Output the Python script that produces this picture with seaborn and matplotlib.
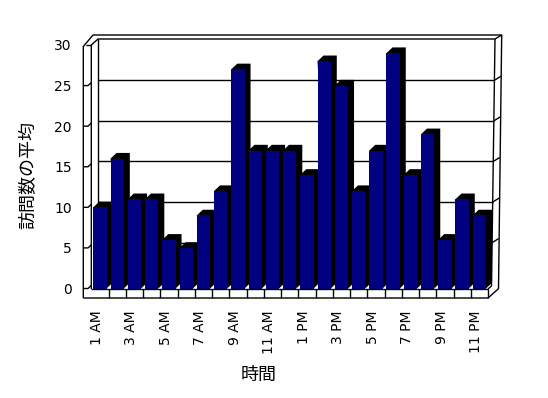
import matplotlib
matplotlib.use('Agg')
import matplotlib.pyplot as plt
import seaborn as sns
import pandas as pd
from matplotlib.patches import Polygon
from matplotlib.lines import Line2D
from matplotlib.transforms import IdentityTransform, ScaledTranslation

# ---- data ----
hours = ['1 AM', '2 AM', '3 AM', '4 AM', '5 AM', '6 AM', '7 AM', '8 AM', '9 AM',
         '10 AM', '11 AM', '12 PM', '1 PM', '2 PM', '3 PM', '4 PM', '5 PM', '6 PM',
         '7 PM', '8 PM', '9 PM', '10 PM', '11 PM']
visits = [10, 16, 11, 11, 6, 5, 9, 12, 27, 17, 17, 17, 14, 28, 25, 12, 17, 29, 14,
          19, 6, 11, 9]
y_ticks = [0, 5, 10, 15, 20, 25, 30]
x_title = '時間'
y_title = '訪問数の平均'

sns.set_style('white')
plt.rcParams['font.family'] = ['DejaVu Sans', 'Noto Sans CJK JP']
cjk = ['Noto Sans CJK JP', 'DejaVu Sans']

W, H = 548, 398
fig = plt.figure(figsize=(W / 100, H / 100), dpi=100, facecolor='white')
L, R, T, B = 91.3, 488.0, 45.0, 288.5
ax = fig.add_axes([L / W, 1 - B / H, (R - L) / W, (B - T) / H])
ax.set_facecolor('none')

df = pd.DataFrame({'hour': hours, 'visits': visits})
sns.barplot(data=df, x='hour', y='visits', color='#000080', saturation=1,
            width=0.77, errorbar=None, ax=ax, zorder=3, linewidth=0)
ax.set_xlim(-0.5, len(hours) - 0.5)
ax.set_ylim(y_ticks[0], y_ticks[-1])
for s in ax.spines.values():
    s.set_visible(False)


def D(px, py):
    """pixel (from top-left) -> display coords"""
    return (px, H - py)


def line(pts, z=5, lw=1.0):
    xs = [D(*p)[0] for p in pts]
    ys = [D(*p)[1] for p in pts]
    ax.add_artist(Line2D(xs, ys, color='black', lw=lw, transform=IdentityTransform(),
                         clip_on=False, zorder=z, solid_capstyle='butt'))


# ---- 3D depth shadows of bars (derived from bar patches) ----
dx, dy = 6.0, 5.7
bars = list(ax.patches)
for p in bars:
    x0, y0 = ax.transData.transform((p.get_x(), 0))
    x1, y1 = ax.transData.transform((p.get_x() + p.get_width(), p.get_height()))
    poly = [(x0, y1), (x0 + dx, y1 + dy), (x1 + dx, y1 + dy), (x1 + dx, y0 + dy), (x1, y0)]
    ax.add_patch(Polygon(poly, closed=True, facecolor='black', edgecolor='none',
                         transform=IdentityTransform(), clip_on=False, zorder=2))

# ---- back wall gridlines + wall tick marks ----
BL, BT, BRt, BRb, BB = 98.0, 39.0, 495.0, 491.5, 286.0
OL, OT, ORt, ORb, FB = 83.3, 35.0, 501.7, 498.5, 298.0
for v in y_ticks:
    yf = H - ax.transData.transform((0, v))[1]
    py = yf - 5.3
    xr = BRt + (BRb - BRt) * (py - BT) / (BB - BT)
    if 0 < v < y_ticks[-1]:
        line([(BL, py), (xr, py)], z=1)
        line([(xr, py), (xr + 6.5, py - 4.0)], z=1)
    if v < y_ticks[-1]:
        line([(OL, yf), (88.0, yf), (L, yf - 3.0)], z=5)

# ---- walls / floor outline ----
line([(OL, FB), (OL, 46.5), (93.0, OT), (ORt, OT), (ORb, 288.7), (R, FB), (OL, FB)], z=5)
line([(L, 289.0), (L, T), (BL, BT), (BRt, BT), (ORt, OT)], z=5)
line([(86.0, T), (L, T)], z=5)
line([(BL, BT), (BL, BB)], z=1)
line([(BRt, BT), (BRb, BB)], z=1)
line([(L, 289.0), (R, 289.0)], z=5)
line([(R, 289.0), (R, FB)], z=5)
line([(R, 289.0), (BRb, BB)], z=5)
for k in range(1, len(hours)):
    xb = ax.transData.transform((k - 0.5, 0))[0]
    line([(xb, 289.0), (xb, FB)], z=5)

# ---- ticks & labels ----
ax.set_yticks(y_ticks)
ax.spines['left'].set_position(('outward', (L - OL) * 0.72))
ax.tick_params(axis='y', length=0, pad=8.3, labelsize=10, labelcolor='black', left=True)
ax.set_xticks(range(0, len(hours), 2))
ax.set_xticklabels(hours[::2], rotation=90)
ax.tick_params(axis='x', length=0, pad=15.5, labelsize=10, labelcolor='black')
off = ScaledTranslation(-3.0 / 100, 0, fig.dpi_scale_trans)
for lab in ax.get_xticklabels():
    lab.set_transform(lab.get_transform() + off)

ax.set_ylabel(y_title, fontsize=13, family=cjk, color='black')
ax.yaxis.label.set_va('center')
ax.yaxis.set_label_coords((28 - L) / (R - L), (B - 175) / (B - T))
ax.set_xlabel(x_title, fontsize=13, family=cjk, color='black')
ax.xaxis.label.set_va('center')
ax.xaxis.set_label_coords((258.5 - L) / (R - L), (B - 375) / (B - T))

fig.savefig('out.png', dpi=100, facecolor='white')
